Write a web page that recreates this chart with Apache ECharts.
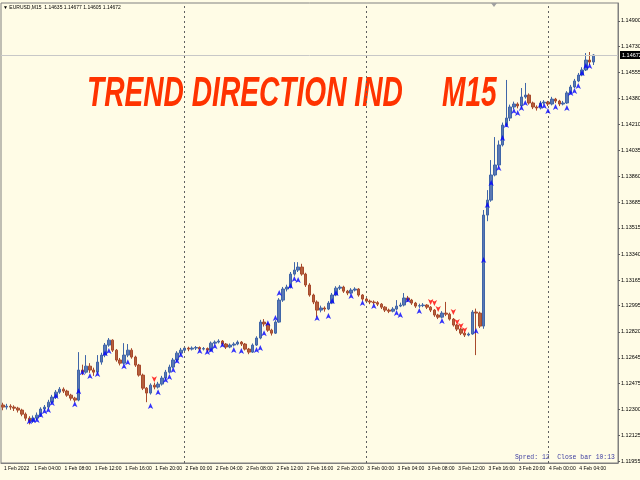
<!DOCTYPE html>
<html lang="en">
<head>
    <meta charset="UTF-8">
    <title>EURUSD M15</title>
    <style>
        body {
            margin: 0;
            overflow: hidden;
            background: #fffce6;
        }
        #chart {
            width: 640px;
            height: 480px;
        }
    </style>
</head>
<body>
    <div id="chart"></div>
    <script src="https://cdn.jsdelivr.net/npm/echarts@6/dist/echarts.min.js"></script>
    <script>
        // axis labels
        var timeLabels = ['1 Feb 2022', '1 Feb 04:00', '1 Feb 08:00', '1 Feb 12:00', '1 Feb 16:00', '1 Feb 20:00',
            '2 Feb 00:00', '2 Feb 04:00', '2 Feb 08:00', '2 Feb 12:00', '2 Feb 16:00', '2 Feb 20:00',
            '3 Feb 00:00', '3 Feb 04:00', '3 Feb 08:00', '3 Feb 12:00', '3 Feb 16:00', '3 Feb 20:00',
            '4 Feb 00:00', '4 Feb 04:00'];
        var priceTicks = [1.11955, 1.12125, 1.12300, 1.12475, 1.12645, 1.12820, 1.12995, 1.13165, 1.13340,
            1.13515, 1.13685, 1.13860, 1.14035, 1.14210, 1.14380, 1.14555, 1.14730, 1.14900];
        var lastPrice = 1.14672;
        var dayStarts = [48, 96, 144];

        // 30 min candles: open, close, low, high
        var candles = [
            [1.12330, 1.12316, 1.12295, 1.12345], [1.12316, 1.12322, 1.12300, 1.12338], [1.12322, 1.12316, 1.12298, 1.12335],
            [1.12316, 1.12309, 1.12290, 1.12328], [1.12309, 1.12296, 1.12280, 1.12318], [1.12296, 1.12269, 1.12255, 1.12305],
            [1.12269, 1.12242, 1.12225, 1.12280], [1.12242, 1.12222, 1.12200, 1.12255], [1.12222, 1.12242, 1.12210, 1.12260],
            [1.12242, 1.12262, 1.12230, 1.12280], [1.12262, 1.12303, 1.12250, 1.12315], [1.12303, 1.12316, 1.12290, 1.12330],
            [1.12316, 1.12349, 1.12305, 1.12365], [1.12349, 1.12383, 1.12340, 1.12398], [1.12383, 1.12416, 1.12370, 1.12430],
            [1.12416, 1.12436, 1.12405, 1.12450], [1.12436, 1.12423, 1.12410, 1.12448], [1.12423, 1.12396, 1.12385, 1.12432],
            [1.12396, 1.12376, 1.12360, 1.12405], [1.12376, 1.12363, 1.12349, 1.12385], [1.12363, 1.12564, 1.12355, 1.12684],
            [1.12564, 1.12550, 1.12530, 1.12600], [1.12550, 1.12590, 1.12540, 1.12664], [1.12590, 1.12564, 1.12545, 1.12610],
            [1.12564, 1.12550, 1.12525, 1.12580], [1.12550, 1.12617, 1.12540, 1.12664], [1.12617, 1.12664, 1.12600, 1.12680],
            [1.12664, 1.12731, 1.12650, 1.12745], [1.12731, 1.12764, 1.12720, 1.12778], [1.12764, 1.12697, 1.12685, 1.12770],
            [1.12697, 1.12631, 1.12620, 1.12705], [1.12631, 1.12610, 1.12595, 1.12645], [1.12610, 1.12664, 1.12600, 1.12744],
            [1.12664, 1.12697, 1.12650, 1.12738], [1.12697, 1.12651, 1.12640, 1.12710], [1.12651, 1.12597, 1.12585, 1.12660],
            [1.12597, 1.12530, 1.12520, 1.12605], [1.12530, 1.12443, 1.12430, 1.12540], [1.12443, 1.12410, 1.12349, 1.12450],
            [1.12410, 1.12463, 1.12400, 1.12475], [1.12463, 1.12450, 1.12435, 1.12480], [1.12450, 1.12470, 1.12440, 1.12485],
            [1.12470, 1.12510, 1.12460, 1.12525], [1.12510, 1.12550, 1.12500, 1.12565], [1.12550, 1.12584, 1.12540, 1.12600],
            [1.12584, 1.12631, 1.12575, 1.12645], [1.12631, 1.12677, 1.12620, 1.12690], [1.12677, 1.12697, 1.12665, 1.12712],
            [1.12697, 1.12711, 1.12685, 1.12725], [1.12711, 1.12704, 1.12690, 1.12720], [1.12704, 1.12711, 1.12695, 1.12722],
            [1.12711, 1.12715, 1.12698, 1.12725], [1.12715, 1.12704, 1.12692, 1.12722], [1.12704, 1.12708, 1.12695, 1.12718],
            [1.12708, 1.12697, 1.12685, 1.12715], [1.12697, 1.12744, 1.12690, 1.12755], [1.12744, 1.12751, 1.12735, 1.12762],
            [1.12751, 1.12758, 1.12742, 1.12770], [1.12758, 1.12738, 1.12728, 1.12765], [1.12738, 1.12718, 1.12705, 1.12745],
            [1.12718, 1.12731, 1.12710, 1.12742], [1.12731, 1.12738, 1.12722, 1.12750], [1.12738, 1.12751, 1.12730, 1.12762],
            [1.12751, 1.12738, 1.12725, 1.12758], [1.12738, 1.12704, 1.12695, 1.12745], [1.12704, 1.12684, 1.12670, 1.12712],
            [1.12684, 1.12731, 1.12678, 1.12742], [1.12731, 1.12778, 1.12725, 1.12790], [1.12778, 1.12885, 1.12770, 1.12900],
            [1.12885, 1.12872, 1.12855, 1.12905], [1.12872, 1.12831, 1.12820, 1.12880], [1.12831, 1.12811, 1.12795, 1.12840],
            [1.12811, 1.12885, 1.12805, 1.12898], [1.12885, 1.13032, 1.12880, 1.13045], [1.13032, 1.13106, 1.13020, 1.13120],
            [1.13106, 1.13119, 1.13090, 1.13135], [1.13119, 1.13206, 1.13110, 1.13220], [1.13206, 1.13233, 1.13195, 1.13286],
            [1.13233, 1.13253, 1.13220, 1.13286], [1.13253, 1.13206, 1.13195, 1.13275], [1.13206, 1.13133, 1.13120, 1.13215],
            [1.13133, 1.13066, 1.13055, 1.13145], [1.13066, 1.13019, 1.13005, 1.13075], [1.13019, 1.12965, 1.12918, 1.13030],
            [1.12965, 1.12979, 1.12950, 1.12995], [1.12979, 1.12972, 1.12955, 1.12990], [1.12972, 1.13012, 1.12965, 1.13025],
            [1.13012, 1.13066, 1.13005, 1.13080], [1.13066, 1.13112, 1.13058, 1.13125], [1.13112, 1.13119, 1.13100, 1.13132],
            [1.13119, 1.13092, 1.13080, 1.13128], [1.13092, 1.13079, 1.13065, 1.13100], [1.13079, 1.13099, 1.13070, 1.13112],
            [1.13099, 1.13106, 1.13090, 1.13118], [1.13106, 1.13066, 1.13055, 1.13112], [1.13066, 1.13039, 1.13028, 1.13072],
            [1.13039, 1.13025, 1.13012, 1.13048], [1.13025, 1.13019, 1.13005, 1.13035], [1.13019, 1.13015, 1.13002, 1.13030],
            [1.13015, 1.13005, 1.12992, 1.13025], [1.13005, 1.12985, 1.12972, 1.13012], [1.12985, 1.12965, 1.12952, 1.12992],
            [1.12965, 1.12958, 1.12945, 1.12975], [1.12958, 1.12972, 1.12950, 1.12985], [1.12972, 1.12992, 1.12965, 1.13032],
            [1.12992, 1.12999, 1.12985, 1.13015], [1.12999, 1.13046, 1.12990, 1.13079], [1.13046, 1.13032, 1.13020, 1.13060],
            [1.13032, 1.13012, 1.13000, 1.13040], [1.13012, 1.12992, 1.12980, 1.13020], [1.12992, 1.12995, 1.12980, 1.13008],
            [1.12995, 1.12999, 1.12985, 1.13012], [1.12999, 1.12985, 1.12972, 1.13005], [1.12985, 1.12965, 1.12952, 1.12992],
            [1.12965, 1.12932, 1.12920, 1.12972], [1.12932, 1.12918, 1.12905, 1.12940], [1.12918, 1.12945, 1.12910, 1.12958],
            [1.12945, 1.12938, 1.12925, 1.13020], [1.12938, 1.12905, 1.12895, 1.12948], [1.12905, 1.12865, 1.12855, 1.12912],
            [1.12865, 1.12838, 1.12825, 1.12872], [1.12838, 1.12811, 1.12798, 1.12845], [1.12811, 1.12798, 1.12785, 1.12820],
            [1.12798, 1.12805, 1.12790, 1.12815], [1.12805, 1.12952, 1.12800, 1.12965], [1.12952, 1.12945, 1.12664, 1.12975],
            [1.12945, 1.12858, 1.12845, 1.12955], [1.12858, 1.13601, 1.12840, 1.13635], [1.13601, 1.13701, 1.13560, 1.13768],
            [1.13701, 1.13869, 1.13690, 1.13969], [1.13869, 1.13936, 1.13860, 1.14123], [1.13936, 1.14070, 1.13920, 1.14100],
            [1.14070, 1.14203, 1.14060, 1.14220], [1.14203, 1.14250, 1.14190, 1.14505], [1.14250, 1.14324, 1.14230, 1.14340],
            [1.14324, 1.14344, 1.14310, 1.14360], [1.14344, 1.14331, 1.14315, 1.14355], [1.14331, 1.14391, 1.14320, 1.14451],
            [1.14391, 1.14404, 1.14380, 1.14485], [1.14404, 1.14351, 1.14340, 1.14415], [1.14351, 1.14324, 1.14310, 1.14360],
            [1.14324, 1.14317, 1.14300, 1.14335], [1.14317, 1.14351, 1.14308, 1.14365], [1.14351, 1.14357, 1.14340, 1.14370],
            [1.14357, 1.14344, 1.14330, 1.14365], [1.14344, 1.14377, 1.14335, 1.14392], [1.14377, 1.14364, 1.14350, 1.14385],
            [1.14364, 1.14344, 1.14330, 1.14372], [1.14344, 1.14351, 1.14335, 1.14365], [1.14351, 1.14418, 1.14345, 1.14430],
            [1.14418, 1.14458, 1.14410, 1.14472], [1.14458, 1.14498, 1.14450, 1.14512], [1.14498, 1.14538, 1.14490, 1.14552],
            [1.14538, 1.14572, 1.14530, 1.14590], [1.14572, 1.14638, 1.14565, 1.14685], [1.14638, 1.14625, 1.14605, 1.14692],
            [1.14625, 1.14672, 1.14605, 1.14677]
        ];

        // indicator arrows: [candle index, price]
        var upArrows = [
            [7, 1.12242], [8, 1.12249], [9, 1.12249], [10, 1.12283], [11, 1.12309], [12, 1.12316], [13, 1.12363], [14, 1.12410],
            [19, 1.12356], [20, 1.12443], [21, 1.12570], [23, 1.12544], [25, 1.12557], [27, 1.12697], [28, 1.12711],
            [32, 1.12610], [33, 1.12637], [39, 1.12343], [41, 1.12436], [43, 1.12517], [44, 1.12537], [45, 1.12584],
            [46, 1.12644], [47, 1.12684], [52, 1.12711], [54, 1.12704], [55, 1.12718], [56, 1.12744], [58, 1.12751],
            [61, 1.12718], [63, 1.12711], [67, 1.12718], [68, 1.12731], [69, 1.12831], [70, 1.12898], [72, 1.12932],
            [73, 1.13099], [76, 1.13146], [77, 1.13193], [78, 1.13186], [83, 1.12932], [86, 1.12945], [87, 1.13046],
            [88, 1.13099], [92, 1.13079], [95, 1.13032], [98, 1.13012], [104, 1.12965], [105, 1.12952], [107, 1.13052],
            [110, 1.12979], [116, 1.12912], [125, 1.12845], [127, 1.13320], [128, 1.13688], [129, 1.13835], [131, 1.13936],
            [132, 1.14136], [133, 1.14223], [135, 1.14317], [136, 1.14304], [137, 1.14337], [138, 1.14371], [142, 1.14357],
            [143, 1.14351], [144, 1.14317], [146, 1.14344], [149, 1.14337], [150, 1.14438], [151, 1.14451], [152, 1.14485],
            [153, 1.14572], [154, 1.14618], [155, 1.14618]
        ];
        var downArrows = [
            [40, 1.12483], [113, 1.12999], [114, 1.12992], [115, 1.12952], [119, 1.12932], [120, 1.12865], [121, 1.12838],
            [122, 1.12811]
        ];

        // category slots, with empty room on the right like the chart shift
        var slots = [];
        for (var i = 0; i < 163; i++) {
            var d = 1 + Math.floor(i / 48), m = (i % 48) * 30;
            var hh = Math.floor(m / 60), mm = m % 60;
            slots.push(d + ' Feb ' + (hh < 10 ? '0' : '') + hh + ':' + (mm ? '30' : '00'));
        }

        var tinyFont = 'Liberation Sans';
        var myChart = echarts.init(document.getElementById('chart'));

        var option = {
            animation: false,
            backgroundColor: '#fffce6',
            grid: {
                left: 1,
                right: 22,
                top: 3,
                bottom: 17,
                outerBoundsMode: 'none',
                containLabel: false,
                show: true,
                borderColor: '#808080',
                borderWidth: 1
            },
            xAxis: {
                type: 'category',
                data: slots,
                boundaryGap: true,
                axisLine: { lineStyle: { color: '#808080' } },
                axisTick: { interval: 7, alignWithLabel: true, length: 3, lineStyle: { color: '#606060' } },
                axisLabel: {
                    interval: 7,
                    hideOverlap: false,
                    showMinLabel: true,
                    showMaxLabel: true,
                    align: 'left',
                    margin: 3,
                    padding: [0, 0, 0, 1],
                    fontSize: 5,
                    fontFamily: tinyFont,
                    color: '#000',
                    formatter: function (v, idx) {
                        return timeLabels[idx / 8] || '';
                    }
                },
                splitLine: { show: false }
            },
            yAxis: {
                type: 'value',
                position: 'right',
                min: 1.11942,
                max: 1.15020,
                axisLine: { show: true, lineStyle: { color: '#808080' } },
                axisTick: { show: true, length: 2, customValues: priceTicks, lineStyle: { color: '#606060' } },
                axisLabel: {
                    customValues: priceTicks,
                    margin: 3,
                    fontSize: 5.5,
                    fontFamily: tinyFont,
                    color: '#000',
                    formatter: function (v) { return v.toFixed(5); }
                },
                splitLine: { show: false }
            },
            series: [
                {
                    name: 'EURUSD',
                    type: 'candlestick',
                    data: candles,
                    barWidth: 3,
                    itemStyle: {
                        color: '#5a78b4',
                        color0: '#b4603c',
                        borderColor: '#4066a8',
                        borderColor0: '#a84a2c',
                        borderWidth: 1
                    },
                    markLine: {
                        silent: true,
                        symbol: 'none',
                        data: dayStarts.map(function (k) {
                            return {
                                xAxis: k,
                                lineStyle: { color: '#606060', type: [2, 3], width: 1 },
                                label: { show: false }
                            };
                        })
                    }
                },
                {
                    name: 'up',
                    type: 'scatter',
                    data: upArrows,
                    symbol: 'arrow',
                    symbolSize: [4, 6],
                    itemStyle: { color: '#0000ff' },
                    z: 5,
                    markLine: {
                        silent: true,
                        symbol: 'none',
                        precision: 5,
                        data: [{ yAxis: lastPrice }],
                        lineStyle: { color: '#c8c8c8', type: 'solid', width: 1 },
                        label: {
                            show: true,
                            position: 'end',
                            distance: 2,
                            formatter: lastPrice.toFixed(5),
                            backgroundColor: '#000',
                            color: '#fff',
                            fontSize: 5.5,
                            fontFamily: tinyFont,
                            padding: [1, 2]
                        }
                    }
                },
                {
                    name: 'down',
                    type: 'scatter',
                    data: downArrows,
                    symbol: 'arrow',
                    symbolRotate: 180,
                    symbolSize: [4, 6],
                    itemStyle: { color: '#ff0000' },
                    z: 5
                }
            ],
            graphic: [
                {
                    type: 'text',
                    x: 3,
                    y: 5,
                    style: {
                        text: '▼ EURUSD,M15  1.14635 1.14677 1.14605 1.14672',
                        font: '5px "Liberation Sans"',
                        fill: '#000'
                    }
                },
                {
                    type: 'polygon',
                    shape: { points: [[491, 3], [497, 3], [494, 7]] },
                    style: { fill: '#a0a0a0' }
                },
                {
                    type: 'text',
                    x: 87,
                    y: 94,
                    scaleX: 0.67,
                    style: {
                        text: 'TREND DIRECTION IND',
                        font: 'italic bold 42px "Liberation Sans"',
                        fill: '#ff3300',
                        verticalAlign: 'middle'
                    }
                },
                {
                    type: 'text',
                    x: 442,
                    y: 94,
                    scaleX: 0.67,
                    style: {
                        text: 'M15',
                        font: 'italic bold 42px "Liberation Sans"',
                        fill: '#ff3300',
                        verticalAlign: 'middle'
                    }
                },
                {
                    type: 'text',
                    x: 515,
                    y: 457,
                    scaleX: 0.8,
                    style: {
                        text: 'Spred: 12  Close bar 10:13',
                        font: '8px "Liberation Mono"',
                        fill: '#3c3ca0',
                        verticalAlign: 'middle'
                    }
                }
            ]
        };

        myChart.setOption(option);
    </script>
</body>
</html>
